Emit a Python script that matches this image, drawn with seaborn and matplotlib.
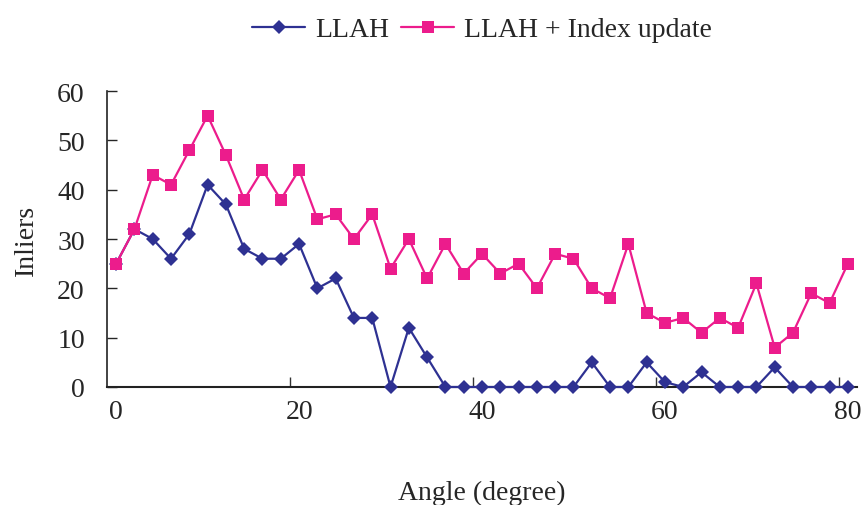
import matplotlib
matplotlib.use("Agg")
import matplotlib.pyplot as plt
import seaborn as sns
import pandas as pd
import numpy as np

angles = list(range(0, 82, 2))
llah = [25, 32, 30, 26, 31, 41, 37, 28, 26, 26, 29, 20, 22, 14, 14, 0, 12, 6, 0, 0,
        0, 0, 0, 0, 0, 0, 5, 0, 0, 5, 1, 0, 3, 0, 0, 0, 4, 0, 0, 0, 0]
llah_update = [25, 32, 43, 41, 48, 55, 47, 38, 44, 38, 44, 34, 35, 30, 35, 24, 30, 22, 29, 23,
               27, 23, 25, 20, 27, 26, 20, 18, 29, 15, 13, 14, 11, 14, 12, 21, 8, 11, 19, 17, 25]
series_names = ["LLAH", "LLAH + Index update"]
x_tick_labels = [0, 20, 40, 60, 80]
y_ticks = [0, 10, 20, 30, 40, 50, 60]

df = pd.DataFrame({
    "Angle": angles * 2,
    "Inliers": llah + llah_update,
    "Series": [series_names[0]] * len(angles) + [series_names[1]] * len(angles),
})

sns.set_style("ticks")
plt.rcParams["font.family"] = ["Liberation Serif", "DejaVu Serif"]

fig = plt.figure(figsize=(8.65, 5.06), dpi=100)
ax = fig.add_axes([107 / 865, 1 - 388 / 506, 750 / 865, (388 - 92) / 506])

colors = {"LLAH": "#2E3192", "LLAH + Index update": "#EC1C8C"}
sns.lineplot(data=df, x="Angle", y="Inliers", hue="Series", style="Series",
             palette=colors, markers={"LLAH": "D", "LLAH + Index update": "s"},
             dashes=False, linewidth=1.6, markersize=8, markeredgewidth=0,
             ax=ax, legend=True, clip_on=False, zorder=3)
for line in ax.lines:
    if line.get_marker() == "D":
        line.set_markersize(7)
    elif line.get_marker() == "s":
        line.set_markersize(8.5)

ax.set_xlim(-1, 81)
ax.set_ylim(0, 60)
ax.set_xticks(x_tick_labels)
ax.set_xticklabels([str(v) for v in x_tick_labels])
ax.set_xticks([19, 39, 59, 79], minor=True)
ax.set_yticks(y_ticks)
ax.tick_params(axis="x", which="major", length=0, pad=9, labelsize=20)
ax.tick_params(axis="x", which="minor", direction="in", length=7, width=1, color="#333333")
ax.tick_params(axis="y", which="major", direction="in", length=7, width=1, pad=16, labelsize=20)

for s in ["top", "right"]:
    ax.spines[s].set_visible(False)
ax.spines["left"].set_linewidth(1.2)
ax.spines["bottom"].set_linewidth(1.5)
ax.spines["left"].set_color("#222222")
ax.spines["bottom"].set_color("#222222")

ax.set_xlabel("Angle (degree)", fontsize=20, labelpad=40)
ax.set_ylabel("Inliers", fontsize=20, labelpad=13)

handles, labels = ax.get_legend_handles_labels()
ax.legend(handles=handles, labels=labels, loc="center", bbox_to_anchor=(0.5, 1.207),
          ncol=2, frameon=False, fontsize=20, handlelength=1.9, handletextpad=0.35,
          columnspacing=0.45)

fig.savefig("out.png", dpi=100, facecolor="white")
